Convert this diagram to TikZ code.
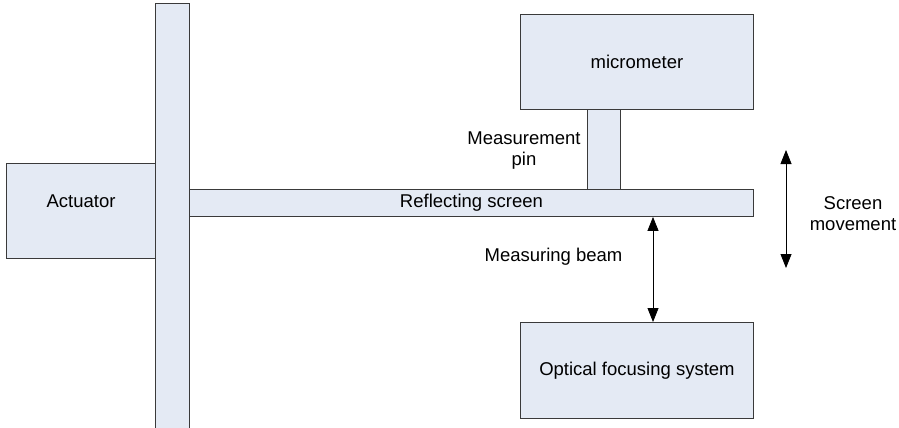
\documentclass[tikz,border=0pt]{standalone}
\usepackage{fontspec}
\setmainfont{Liberation Sans}
\usetikzlibrary{arrows.meta}
\definecolor{boxfill}{HTML}{E4EAF4}
\definecolor{boxline}{HTML}{3A3A3A}
\begin{document}
\begin{tikzpicture}[x=1pt,y=-1pt,
  blk/.style={draw=boxline,fill=boxfill,line width=0.9pt,rectangle,inner sep=0pt,anchor=north west},
  txt/.style={inner sep=0pt,font=\fontsize{18.5}{21}\selectfont,align=center},
  arr/.style={draw=black,line width=0.8pt,{Triangle[length=14pt,width=11pt]}-{Triangle[length=14pt,width=11pt]}}]
\useasboundingbox (0,0) rectangle (899,428);
\fill[white] (0,0) rectangle (899,428);
% actuator
\node[blk,minimum width=149pt,minimum height=95pt] (act) at (6,163) {};
% reflecting screen
\node[blk,minimum width=564pt,minimum height=27pt,font=\fontsize{18.5}{21}\selectfont] (scr) at (189,189) {Reflecting screen};
% vertical bar
\node[blk,minimum width=34pt,minimum height=430pt] (bar) at (155,3) {};
% micrometer
\node[blk,minimum width=233pt,minimum height=95pt,font=\fontsize{18.5}{21}\selectfont] (mic) at (520,14) {micrometer};
% pin
\node[blk,minimum width=33pt,minimum height=80pt] (pin) at (587,109) {};
% optical
\node[blk,minimum width=233pt,minimum height=96pt,font=\fontsize{18.5}{21}\selectfont] (opt) at (520,322) {Optical focusing system};
% texts
\node[txt] (tact) at (81,201) {Actuator};
\node[txt] (tpin) at (524,151) {Measurement\\pin};
\node[txt] (tbeam) at (553.5,257) {Measuring beam};
\node[txt] (tmove) at (853,214) {Screen\\movement};
% arrows
\coordinate (bx) at (653,0);
\draw[arr] (scr.south -| bx) -- (opt.north -| bx);
\coordinate (mt) at (786,150);
\coordinate (mb) at (786,268);
\draw[arr] (mt) -- (mb);
\end{tikzpicture}
\end{document}
